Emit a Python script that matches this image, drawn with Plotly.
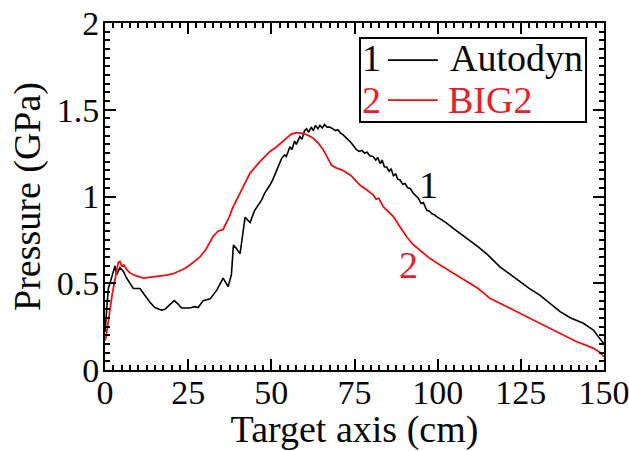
import plotly.graph_objects as go

# Autodyn (curve 1)
auto_x = [0, 0.5, 1, 1.5, 2, 3, 3.5, 4.5, 5.5, 6.5, 7.5, 8.5, 10.5, 12, 13.5, 15, 17, 18, 19, 20.8, 22, 23,
          25.5, 27, 28, 29.5, 31.6, 33.6, 35.5, 37, 38, 38.6, 39.5, 40.6, 42.1, 43.6, 45, 46, 47.1, 48, 49.6,
          50.5, 51.5, 52.3, 53.1, 54, 54.5, 55.6, 56.2, 57, 57.5, 58.6, 59.2, 60, 60.6, 61.2, 62, 62.6, 63.3,
          64, 64.6, 65.3, 66, 66.7, 67.6, 68.5, 69.3, 70, 70.8, 71.6, 72.4, 73.2, 74, 74.8, 75.6, 76.4, 77.2,
          78, 78.8, 79.6, 80.6, 81.4, 82, 82.7, 83.3, 84, 84.7, 85.4, 86, 86.7, 87.4, 88, 88.7, 89.5, 90.2,
          91, 91.8, 92.7, 93.5, 94.2, 95, 95.7, 96.7, 97.5, 98.3, 99, 99.7, 101, 102.5, 104.7, 106.7, 109,
          112.2, 115, 118.7, 121.5, 124.7, 127.5, 130.7, 133.5, 136.8, 140, 143.8, 146.8, 148.5, 150]
auto_y = [0.22, 0.38, 0.47, 0.5, 0.53, 0.6, 0.55, 0.59, 0.57, 0.53, 0.5, 0.47, 0.47, 0.43, 0.39, 0.36, 0.345,
          0.35, 0.37, 0.4, 0.38, 0.357, 0.357, 0.365, 0.36, 0.4, 0.41, 0.46, 0.53, 0.48, 0.55, 0.72, 0.7,
          0.67, 0.88, 0.85, 0.92, 0.95, 0.98, 1.02, 1.066, 1.1, 1.15, 1.19, 1.22, 1.24, 1.23, 1.287, 1.27,
          1.32, 1.3, 1.345, 1.33, 1.38, 1.39, 1.37, 1.4, 1.38, 1.41, 1.39, 1.41, 1.395, 1.415, 1.4, 1.4,
          1.39, 1.38, 1.385, 1.365, 1.355, 1.34, 1.33, 1.31, 1.29, 1.27, 1.26, 1.265, 1.25, 1.255, 1.235,
          1.23, 1.21, 1.225, 1.19, 1.21, 1.17, 1.17, 1.145, 1.16, 1.12, 1.13, 1.1, 1.095, 1.07, 1.075, 1.05,
          1.045, 1.018, 1.0, 0.99, 0.96, 0.965, 0.922, 0.915, 0.9, 0.895, 0.884, 0.87, 0.85, 0.816, 0.788,
          0.755, 0.71, 0.665, 0.595, 0.555, 0.509, 0.47, 0.432, 0.39, 0.336, 0.3, 0.269, 0.23, 0.19, 0.15]

# BIG2 (curve 2)
big_x = [0, 0.3, 1, 1.5, 2.2, 3, 3.5, 4, 4.5, 5, 5.7, 6.5, 7.5, 9, 11.5, 14, 16, 18.5, 20.5, 22.5, 24, 25.5,
         27, 28.5, 30.5, 32.5, 34, 35.5, 36, 37.3, 38.5, 41, 43.6, 46.5, 49.6, 51.5, 53, 54.5, 56, 57.5, 59.1,
         60.8, 62.5, 64, 65.6, 67, 68.1, 69.5, 71.6, 74, 76.6, 78.5, 80.6, 81.5, 82.3, 83.7, 85.3, 86.7, 88.5,
         90.7, 92.5, 94.7, 97.5, 100.7, 105.7, 109, 112.2, 115.7, 120, 124.7, 129, 133.7, 138, 141.8, 144.5,
         146.8, 148.5, 150]
big_y = [0.17, 0.19, 0.28, 0.36, 0.44, 0.52, 0.58, 0.62, 0.625, 0.6, 0.605, 0.58, 0.56, 0.545, 0.53, 0.535,
         0.54, 0.547, 0.555, 0.57, 0.585, 0.605, 0.625, 0.65, 0.7, 0.77, 0.8, 0.81, 0.83, 0.88, 0.94, 1.04,
         1.135, 1.2, 1.26, 1.285, 1.31, 1.335, 1.36, 1.368, 1.365, 1.355, 1.337, 1.31, 1.27, 1.22, 1.18, 1.165,
         1.15, 1.12, 1.066, 1.04, 1.01, 0.985, 0.99, 0.94, 0.91, 0.884, 0.83, 0.768, 0.725, 0.69, 0.645, 0.605,
         0.547, 0.51, 0.47, 0.413, 0.37, 0.327, 0.285, 0.24, 0.2, 0.163, 0.143, 0.125, 0.105, 0.077]

RED = "#f01010"
TXT_RED = "#e8202a"
TXT_BLACK = "#080808"
FONT = "Liberation Serif"

fig = go.Figure()
fig.add_trace(go.Scatter(x=auto_x, y=auto_y, mode="lines", line=dict(color="black", width=1.6),
                         name="Autodyn", showlegend=False))
fig.add_trace(go.Scatter(x=big_x, y=big_y, mode="lines", line=dict(color=RED, width=1.8),
                         name="BIG2", showlegend=False))

axis_common = dict(showline=True, linecolor="black", linewidth=2, mirror="allticks",
                   ticks="inside", ticklen=11, tickwidth=2, tickcolor="black",
                   showgrid=False, zeroline=False, automargin=False,
                   ticklabeloverflow="allow",
                   tickfont=dict(family=FONT, size=34, color=TXT_BLACK))

fig.update_xaxes(range=[0, 150], tickmode="array", tickvals=[0, 25, 50, 75, 100, 125, 150],
                 ticklabelstandoff=-9,
                 minor=dict(dtick=2.5, ticks="inside", ticklen=5, tickwidth=1.5, tickcolor="black"),
                 title=dict(text="Target axis (cm)", font=dict(family=FONT, size=38, color=TXT_BLACK), standoff=0),
                 **axis_common)
fig.update_yaxes(range=[0, 2], tickmode="array", tickvals=[0, 0.5, 1, 1.5, 2],
                 ticktext=["0", "0.5", "1", "1.5", "2"],
                 ticklabelstandoff=-3,
                 minor=dict(dtick=0.05, ticks="inside", ticklen=5, tickwidth=1.5, tickcolor="black"),
                 title=dict(text="Pressure (GPa)", font=dict(family=FONT, size=38, color=TXT_BLACK), standoff=4),
                 **axis_common)

# legend box
fig.add_shape(type="rect", xref="x domain", yref="y domain", x0=0.511, x1=0.964, y0=0.715, y1=0.957,
              line=dict(color="black", width=2), fillcolor="white", layer="above")
fig.add_shape(type="line", xref="x domain", yref="y domain", x0=0.567, x1=0.667, y0=0.893, y1=0.893,
              line=dict(color="black", width=1.6))
fig.add_shape(type="line", xref="x domain", yref="y domain", x0=0.567, x1=0.667, y0=0.778, y1=0.778,
              line=dict(color=RED, width=1.8))

def ann(text, x, y, color, xanchor="center", ref="domain"):
    r = ("x domain", "y domain") if ref == "domain" else ("x", "y")
    fig.add_annotation(text=text, x=x, y=y, xref=r[0], yref=r[1], showarrow=False,
                       xanchor=xanchor, yanchor="middle",
                       font=dict(family=FONT, size=38, color=color))

ann("1", 0.535, 0.899, TXT_BLACK)
ann("Autodyn", 0.687, 0.899, TXT_BLACK, xanchor="left")
ann("2", 0.535, 0.778, TXT_RED)
ann("BIG2", 0.683, 0.778, TXT_RED, xanchor="left")

ann("1", 97.1, 1.066, TXT_BLACK, ref="data")
ann("2", 91.1, 0.605, TXT_RED, ref="data")

fig.update_layout(width=629, height=451, margin=dict(l=105, r=25, t=23, b=81, autoexpand=False),
                  font=dict(family=FONT, color=TXT_BLACK),
                  paper_bgcolor="white", plot_bgcolor="white", showlegend=False)

fig.write_html("out.html")
